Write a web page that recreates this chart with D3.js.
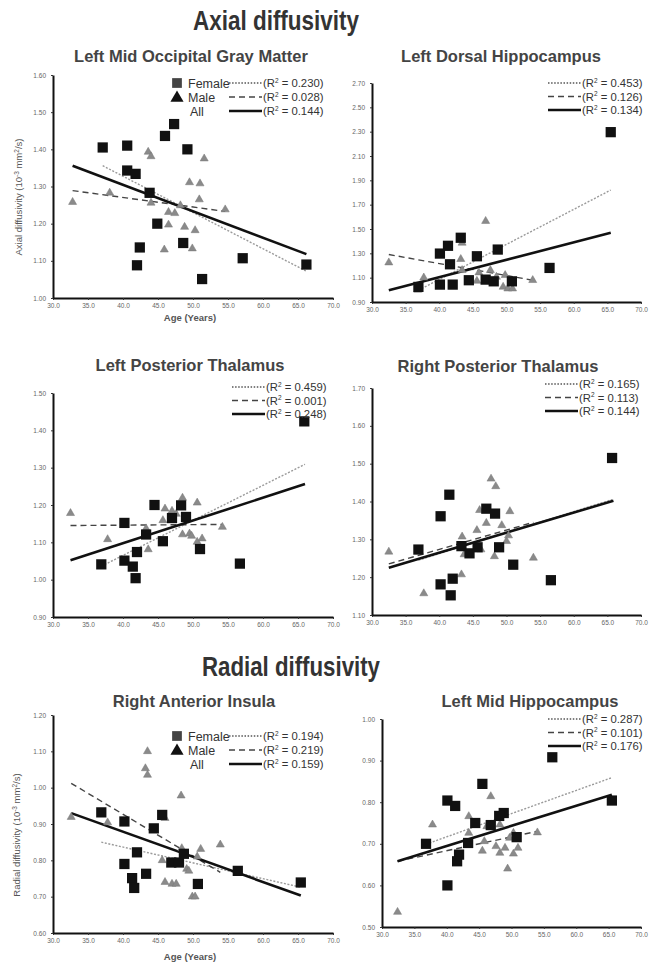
<!DOCTYPE html>
<html>
<head>
<meta charset="utf-8">
<script src="https://cdn.jsdelivr.net/npm/d3@7"></script>
<style>
  body { margin: 0; background: #fff; }
  svg { display: block; font-family: "Liberation Sans", Arial, sans-serif; }
  .tick text { fill: #666; font-size: 6.5px; }
  .tick line { stroke: #333; }
  .domain { stroke: #111; stroke-width: 2px; }
</style>
</head>
<body>
<svg id="chart" width="649" height="965"></svg>
<script>
// shared x ticks (age)
const xTicks = [30, 35, 40, 45, 50, 55, 60, 65, 70];

// --- Left Mid Occipital Gray Matter (axial) ---
const lmogFemale = [[37.1,1.405],[40.6,1.41],[40.6,1.343],[41.8,1.334],[43.8,1.283],[47.3,1.468],[46.0,1.436],[49.2,1.40],
  [44.9,1.20],[42.4,1.136],[42.0,1.088],[48.6,1.148],[51.3,1.051],[57.1,1.107],[66.2,1.09]];
const lmogMale = [[32.8,1.258],[38.1,1.283],[43.6,1.393],[44.0,1.381],[44.0,1.256],[46.5,1.231],[47.4,1.228],[51.6,1.375],
  [49.5,1.311],[51.0,1.308],[50.9,1.265],[54.6,1.238],[46.5,1.197],[48.8,1.191],[50.3,1.182],[45.9,1.130],[49.9,1.133],[48.2,1.249]];
// fits: female, male, all -> [[age0,val0],[age1,val1]]
const lmogFits = [[[37.1,1.356],[66.2,1.072]], [[32.8,1.289],[54.6,1.233]], [[32.8,1.356],[66.2,1.118]]];
const lmogR2 = ["0.230", "0.028", "0.144"];
const lmogYTicks = [1.0, 1.1, 1.2, 1.3, 1.4, 1.5, 1.6];

// --- Left Dorsal Hippocampus (axial) ---
const ldhFemale = [[65.5,2.296],[43.2,1.428],[41.3,1.362],[40.1,1.298],[41.6,1.21],[45.6,1.276],[48.7,1.331],[56.4,1.18],
  [36.9,1.024],[40.1,1.043],[42.0,1.043],[44.4,1.079],[46.9,1.084],[48.1,1.07],[50.8,1.07]];
const ldhMale = [[32.5,1.224],[37.7,1.10],[43.4,1.386],[43.2,1.252],[46.9,1.565],[43.4,1.161],[45.9,1.142],[47.6,1.161],
  [45.6,1.073],[49.8,1.12],[49.5,1.024],[50.2,1.01],[50.9,1.01],[53.9,1.079],[36.8,1.0],[48.5,1.106]];
const ldhFits = [[[36.9,0.996],[65.5,1.82]], [[32.5,1.29],[53.9,1.079]], [[32.5,0.996],[65.5,1.469]]];
const ldhR2 = ["0.453", "0.126", "0.134"];
const ldhYTicks = [0.9, 1.1, 1.3, 1.5, 1.7, 1.9, 2.1, 2.3, 2.5, 2.7];

// --- Left Posterior Thalamus (axial) ---
const lptFemale = [[65.9,1.424],[44.5,1.20],[48.3,1.199],[40.2,1.152],[47.0,1.165],[49.0,1.168],[43.3,1.121],[45.7,1.103],
  [36.9,1.041],[40.2,1.051],[42.0,1.074],[41.4,1.035],[41.8,1.004],[51.0,1.082],[56.7,1.043]];
const lptMale = [[32.5,1.178],[37.8,1.108],[43.3,1.137],[43.6,1.081],[46.0,1.19],[47.0,1.184],[45.7,1.159],[48.5,1.219],
  [50.6,1.206],[48.5,1.121],[49.5,1.123],[49.8,1.117],[50.6,1.101],[51.3,1.11],[54.2,1.141],[47.6,1.176]];
const lptFits = [[[36.9,1.036],[66.0,1.309]], [[32.5,1.145],[54.2,1.148]], [[32.5,1.052],[66.0,1.256]]];
const lptR2 = ["0.459", "0.001", "0.248"];
const lptYTicks = [0.9, 1.0, 1.1, 1.2, 1.3, 1.4, 1.5];

// --- Right Posterior Thalamus (axial) ---
const rptFemale = [[65.7,1.515],[41.5,1.418],[40.2,1.361],[47.0,1.381],[48.3,1.368],[36.9,1.273],[43.3,1.282],[44.5,1.263],
  [45.7,1.279],[48.9,1.279],[51.0,1.233],[56.6,1.192],[40.2,1.181],[42.0,1.196],[41.7,1.152]];
const rptMale = [[32.5,1.267],[37.7,1.157],[43.3,1.207],[43.4,1.307],[43.7,1.26],[45.6,1.324],[46.0,1.377],[47.0,1.343],
  [47.7,1.46],[48.4,1.44],[49.3,1.337],[50.5,1.374],[48.2,1.255],[50.0,1.295],[50.3,1.31],[54.0,1.251],[46.2,1.273]];
const rptFits = [[[36.9,1.245],[65.7,1.405]], [[32.5,1.235],[54.0,1.345]], [[32.5,1.225],[65.9,1.402]]];
const rptR2 = ["0.165", "0.113", "0.144"];
const rptYTicks = [1.1, 1.2, 1.3, 1.4, 1.5, 1.6, 1.7];

// --- Right Anterior Insula (radial) ---
const raiFemale = [[36.9,0.932],[40.2,0.907],[45.6,0.925],[44.4,0.888],[42.0,0.822],[40.2,0.79],[43.3,0.763],[41.3,0.751],
  [41.6,0.724],[46.9,0.794],[48.0,0.794],[48.7,0.818],[50.7,0.735],[56.4,0.771],[65.4,0.739]];
const raiMale = [[32.6,0.919],[37.8,0.904],[43.5,1.10],[43.2,1.053],[43.5,1.035],[48.3,0.978],[46.0,0.916],[45.6,0.80],
  [46.0,0.74],[47.0,0.735],[47.6,0.735],[48.4,0.833],[49.1,0.776],[49.4,0.771],[49.9,0.70],[50.3,0.70],[51.1,0.831],
  [50.6,0.81],[53.9,0.843]];
const raiFits = [[[36.9,0.85],[65.4,0.726]], [[32.6,1.012],[53.9,0.767]], [[32.6,0.930],[65.4,0.703]]];
const raiR2 = ["0.194", "0.219", "0.159"];
const raiYTicks = [0.6, 0.7, 0.8, 0.9, 1.0, 1.1, 1.2];

// --- Left Mid Hippocampus (radial) ---
const lmhFemale = [[56.3,0.908],[45.5,0.844],[40.1,0.804],[41.3,0.791],[48.8,0.774],[48.1,0.767],[44.4,0.75],[46.8,0.745],
  [36.8,0.70],[43.3,0.702],[50.8,0.716],[41.9,0.674],[41.6,0.658],[40.1,0.60],[65.5,0.804]];
const lmhMale = [[32.4,0.536],[37.8,0.746],[43.4,0.766],[43.4,0.726],[46.8,0.814],[46.2,0.742],[45.5,0.683],[45.8,0.706],
  [47.6,0.694],[48.2,0.678],[48.2,0.746],[49.0,0.69],[49.4,0.64],[49.7,0.714],[50.3,0.676],[50.3,0.726],[51.0,0.69],[54.0,0.727]];
const lmhFits = [[[36.8,0.699],[65.5,0.859]], [[32.4,0.658],[54.0,0.730]], [[32.4,0.658],[65.5,0.818]]];
const lmhR2 = ["0.287", "0.101", "0.176"];
const lmhYTicks = [0.5, 0.6, 0.7, 0.8, 0.9, 1.0];

const svg = d3.select("#chart");

// section headings - squeezed to the narrow look of the original
svg.append("text").attr("x", 276).attr("y", 30).attr("text-anchor", "middle")
  .attr("textLength", 166).attr("lengthAdjust", "spacingAndGlyphs")
  .style("font-size", "27px").style("font-weight", "bold").attr("fill", "#333").text("Axial diffusivity");
svg.append("text").attr("x", 291).attr("y", 676).attr("text-anchor", "middle")
  .attr("textLength", 178).attr("lengthAdjust", "spacingAndGlyphs")
  .style("font-size", "27px").style("font-weight", "bold").attr("fill", "#333").text("Radial diffusivity");

// layout for each panel (pixel boxes)
const panels = [
  {title: "Left Mid Occipital Gray Matter", tx: 191, ty: 62, female: lmogFemale, male: lmogMale, fits: lmogFits, r2: lmogR2,
   yTicks: lmogYTicks, left: 53, right: 333, top: 75, bottom: 298, lx: 229, ly: 83, key: true,
   yLabel: "Axial diffusivity", ylx: 22, yly: 197, xLabel: true, xly: 321},
  {title: "Left Dorsal Hippocampus", tx: 501, ty: 62, female: ldhFemale, male: ldhMale, fits: ldhFits, r2: ldhR2,
   yTicks: ldhYTicks, left: 372, right: 641, top: 83, bottom: 302, lx: 548, ly: 83},
  {title: "Left Posterior Thalamus", tx: 190, ty: 371, female: lptFemale, male: lptMale, fits: lptFits, r2: lptR2,
   yTicks: lptYTicks, left: 53, right: 333, top: 393, bottom: 617, lx: 232, ly: 387},
  {title: "Right Posterior Thalamus", tx: 498, ty: 372, female: rptFemale, male: rptMale, fits: rptFits, r2: rptR2,
   yTicks: rptYTicks, left: 372, right: 641, top: 388, bottom: 615, lx: 545, ly: 384},
  {title: "Right Anterior Insula", tx: 194, ty: 707, female: raiFemale, male: raiMale, fits: raiFits, r2: raiR2,
   yTicks: raiYTicks, left: 53, right: 333, top: 715, bottom: 933, lx: 229, ly: 736, key: true,
   yLabel: "Radial diffusivity", ylx: 20, yly: 835, xLabel: true, xly: 960},
  {title: "Left Mid Hippocampus", tx: 530, ty: 707, female: lmhFemale, male: lmhMale, fits: lmhFits, r2: lmhR2,
   yTicks: lmhYTicks, left: 382, right: 641, top: 719, bottom: 927, lx: 548, ly: 719}
];

const fitStyles = [
  {stroke: "#9a9a9a", width: 1.4, dash: "2,1.6"},
  {stroke: "#444", width: 1.4, dash: "6,4"},
  {stroke: "#111", width: 2.6, dash: null}
];

const triangle = d3.symbol().type(d3.symbolTriangle);
const square = d3.symbol().type(d3.symbolSquare);

panels.forEach(p => {
  const x = d3.scaleLinear().domain([30, 70]).range([p.left, p.right]);
  const y = d3.scaleLinear().domain(d3.extent(p.yTicks)).range([p.bottom, p.top]);
  const g = svg.append("g");

  g.append("text").attr("x", p.tx).attr("y", p.ty).attr("text-anchor", "middle")
    .style("font-size", "16.5px").style("font-weight", "bold").attr("fill", "#444").text(p.title);

  g.append("g").attr("transform", `translate(0,${p.bottom})`)
    .call(d3.axisBottom(x).tickValues(xTicks).tickFormat(d3.format(".1f")).tickSize(2).tickSizeOuter(0).tickPadding(3));
  g.append("g").attr("transform", `translate(${p.left},0)`)
    .call(d3.axisLeft(y).tickValues(p.yTicks).tickFormat(d3.format(".2f")).tickSize(2).tickSizeOuter(0).tickPadding(5));

  // fit lines
  const line = d3.line().x(d => x(d[0])).y(d => y(d[1]));
  p.fits.forEach((f, i) => {
    g.append("path").attr("d", line(f)).attr("fill", "none")
      .attr("stroke", fitStyles[i].stroke).attr("stroke-width", fitStyles[i].width)
      .attr("stroke-dasharray", fitStyles[i].dash);
  });

  // male triangles
  g.selectAll(".male").data(p.male).enter().append("path")
    .attr("d", triangle.size(28)())
    .attr("transform", d => `translate(${x(d[0])},${y(d[1])})`)
    .attr("fill", "#8a8a8a").attr("stroke", "#777").attr("stroke-width", 0.5);

  // female squares
  g.selectAll(".female").data(p.female).enter().append("path")
    .attr("d", square.size(105)())
    .attr("transform", d => `translate(${x(d[0])},${y(d[1])})`)
    .attr("fill", "#111");

  // legend
  const rowGap = (p.key ? 14 : 13.5);
  p.r2.forEach((r, i) => {
    const ry = p.ly + i * rowGap;
    g.append("line").attr("x1", p.lx).attr("x2", p.lx + 33).attr("y1", ry).attr("y2", ry)
      .attr("stroke", i === 0 ? "#555" : fitStyles[i].stroke).attr("stroke-width", i === 2 ? 2.6 : 1.3)
      .attr("stroke-dasharray", i === 0 ? "1.5,1.6" : fitStyles[i].dash);
    const t = g.append("text").attr("x", p.lx + 34).attr("y", ry + 4)
      .style("font-size", "11.3px").attr("fill", "#333");
    t.append("tspan").text("(R");
    t.append("tspan").attr("dy", -4.5).style("font-size", "6.5px").text("2");
    t.append("tspan").attr("dy", 4.5).text(" = " + r + ")");
  });

  if (p.key) {
    const kx = 177;
    g.append("path").attr("d", square.size(95)()).attr("transform", `translate(${kx},${p.ly})`).attr("fill", "#444");
    g.append("path").attr("d", triangle.size(75)()).attr("transform", `translate(${kx},${p.ly + rowGap + 1})`).attr("fill", "#111");
    const names = ["Female", "Male", "All"];
    names.forEach((n, i) => {
      g.append("text").attr("x", i === 2 ? kx + 13 : kx + 11).attr("y", p.ly + i * rowGap + 4.5)
        .style("font-size", "12.5px").attr("fill", "#333").text(n);
    });
  }

  if (p.yLabel) {
    const t = g.append("text").attr("transform", `translate(${p.ylx},${p.yly}) rotate(-90)`)
      .attr("text-anchor", "middle").style("font-size", "9.5px").attr("fill", "#555");
    t.append("tspan").text(p.yLabel + " (10");
    t.append("tspan").attr("dy", -3).style("font-size", "6.5px").text("-3");
    t.append("tspan").attr("dy", 3).text(" mm");
    t.append("tspan").attr("dy", -3).style("font-size", "6.5px").text("2");
    t.append("tspan").attr("dy", 3).text("/s)");
  }
  if (p.xLabel) {
    g.append("text").attr("x", 190).attr("y", p.xly).attr("text-anchor", "middle")
      .style("font-size", "9.5px").style("font-weight", "bold").attr("fill", "#555").text("Age (Years)");
  }
});
</script>
</body>
</html>
